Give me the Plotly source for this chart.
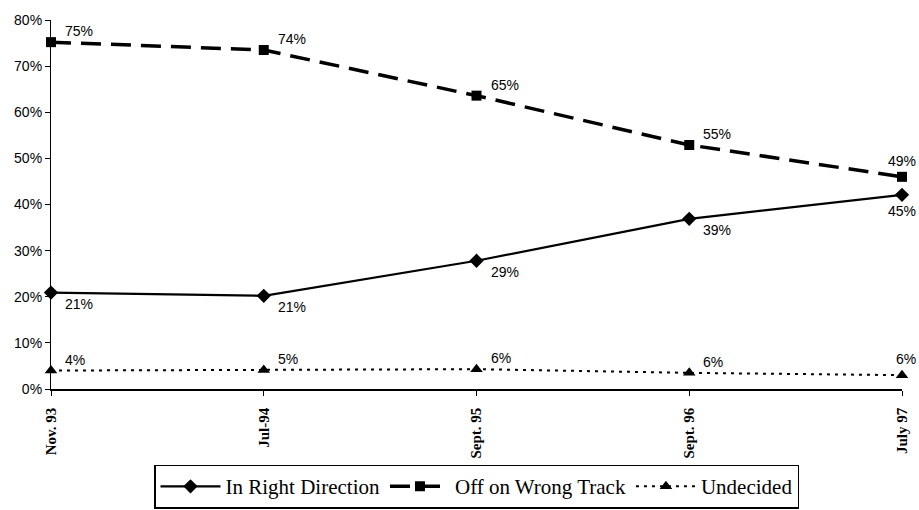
import plotly.graph_objects as go

CATEGORIES = ["Nov. 93", "Jul-94", "Sept. 95", "Sept. 96", "July 97"]

# plotted positions and the printed labels
RIGHT_DIRECTION = [20.9, 20.2, 27.8, 36.9, 42.1]
WRONG_TRACK = [75.2, 73.5, 63.6, 52.9, 46.0]
UNDECIDED = [4.0, 4.1, 4.3, 3.5, 3.0]

RIGHT_LABELS = ["21%", "21%", "29%", "39%", "45%"]
WRONG_LABELS = ["75%", "74%", "65%", "55%", "49%"]
UNDECIDED_LABELS = ["4%", "5%", "6%", "6%", "6%"]

Y_TICKS = [0, 10, 20, 30, 40, 50, 60, 70, 80]
Y_TICK_TEXT = ["0%", "10%", "20%", "30%", "40%", "50%", "60%", "70%", "80%"]

SANS = "Liberation Sans, Arial, sans-serif"
SERIF = "Liberation Serif, Times New Roman, serif"

fig = go.Figure()

fig.add_trace(
    go.Scatter(
        x=CATEGORIES,
        y=RIGHT_DIRECTION,
        name="In Right Direction",
        mode="lines+markers",
        line=dict(color="black", width=2.2),
        marker=dict(symbol="diamond", size=11, color="black"),
        cliponaxis=False,
    )
)
fig.add_trace(
    go.Scatter(
        x=CATEGORIES,
        y=WRONG_TRACK,
        name="Off on Wrong Track",
        mode="lines+markers",
        line=dict(color="black", width=3.5, dash="20px,10px"),
        marker=dict(symbol="square", size=10, color="black"),
        cliponaxis=False,
    )
)
fig.add_trace(
    go.Scatter(
        x=CATEGORIES,
        y=UNDECIDED,
        name="Undecided",
        mode="lines+markers",
        line=dict(color="black", width=2, dash="3px,5px"),
        marker=dict(symbol="triangle-up", size=11, color="black"),
        cliponaxis=False,
    )
)

# value labels: to the right of each point, right-aligned on the last one
annotations = []
for values, labels, above in [
    (RIGHT_DIRECTION, RIGHT_LABELS, False),
    (WRONG_TRACK, WRONG_LABELS, True),
    (UNDECIDED, UNDECIDED_LABELS, True),
]:
    for i, (cat, val, lab) in enumerate(zip(CATEGORIES, values, labels)):
        last = i == len(CATEGORIES) - 1
        annotations.append(
            dict(
                x=cat,
                y=val,
                text=lab,
                showarrow=False,
                xanchor="right" if last else "left",
                yanchor="middle",
                xshift=16 if last else 12,
                yshift=(16 if last else 11) * (1 if above else -1),
                font=dict(family=SANS, size=14, color="black"),
            )
        )

fig.update_layout(
    width=919,
    height=510,
    paper_bgcolor="white",
    plot_bgcolor="white",
    margin={"l": 51, "r": 17, "t": 20, "b": 121, "autoexpand": False},
    showlegend=True,
    legend=dict(
        orientation="h",
        x=0.50,
        xanchor="center",
        y=-0.205,
        yanchor="top",
        bordercolor="black",
        borderwidth=1.5,
        font=dict(family=SERIF, size=21, color="black"),
        itemwidth=60,
        tracegroupgap=0,
    ),
    annotations=annotations,
    xaxis=dict(
        type="category",
        range=[0, 4],
        automargin=False,
        showline=True,
        linecolor="black",
        linewidth=1.5,
        ticks="outside",
        ticklen=5,
        tickcolor="black",
        tickangle=-90,
        ticklabelstandoff=6,
        tickfont=dict(family=SERIF, size=15, color="black", weight="bold"),
        showgrid=False,
        zeroline=False,
    ),
    yaxis=dict(
        range=[0, 80],
        tickvals=Y_TICKS,
        ticktext=Y_TICK_TEXT,
        automargin=False,
        showline=True,
        linecolor="black",
        linewidth=1.2,
        ticks="outside",
        ticklen=5,
        tickcolor="black",
        tickfont=dict(family=SANS, size=14, color="black"),
        showgrid=False,
        zeroline=False,
    ),
)

fig.write_html(
    "out.html",
    config={"displayModeBar": False},
    post_script="document.body.style.margin = '0';",
)
